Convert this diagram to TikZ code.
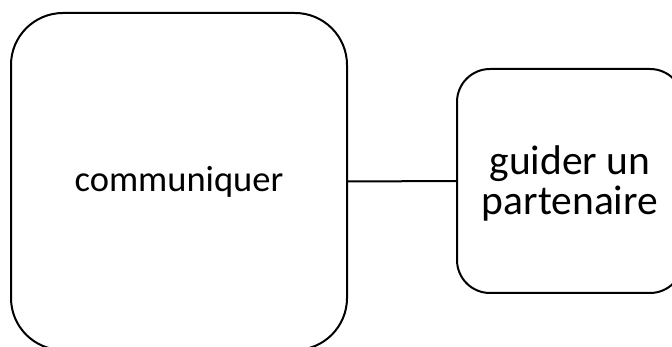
\documentclass[tikz,border=0pt]{standalone}
\usepackage{fontspec}
\setmainfont{Carlito}
\usepackage{tikz}
\usetikzlibrary{calc}

\tikzset{
  boite/.style={draw, line width=2pt, align=center, inner sep=0pt}
}

\begin{document}
\begin{tikzpicture}[x=1pt, y=-1pt, line cap=round, line join=round]

% cadre de l'image
\useasboundingbox (0,0) rectangle (672,347);

% boite de gauche
\node[boite, minimum width=336pt, minimum height=337pt, rounded corners=52pt,
  font=\fontsize{36.5}{40}\selectfont]
  (comm) at (179,181.5) {communiquer};

% boite de droite
\node[boite, minimum width=226pt, minimum height=224pt, rounded corners=33pt,
  font=\fontsize{41.5}{40}\selectfont]
  (guide) at (570,181) {};
\node[align=center, inner sep=0pt, font=\fontsize{41.5}{40}\selectfont]
  (guidetxt) at (570,183) {guider un\\partenaire};

% liaison
\draw[line width=2pt] (comm.east) -- (guide.west);
\end{tikzpicture}
\end{document}
